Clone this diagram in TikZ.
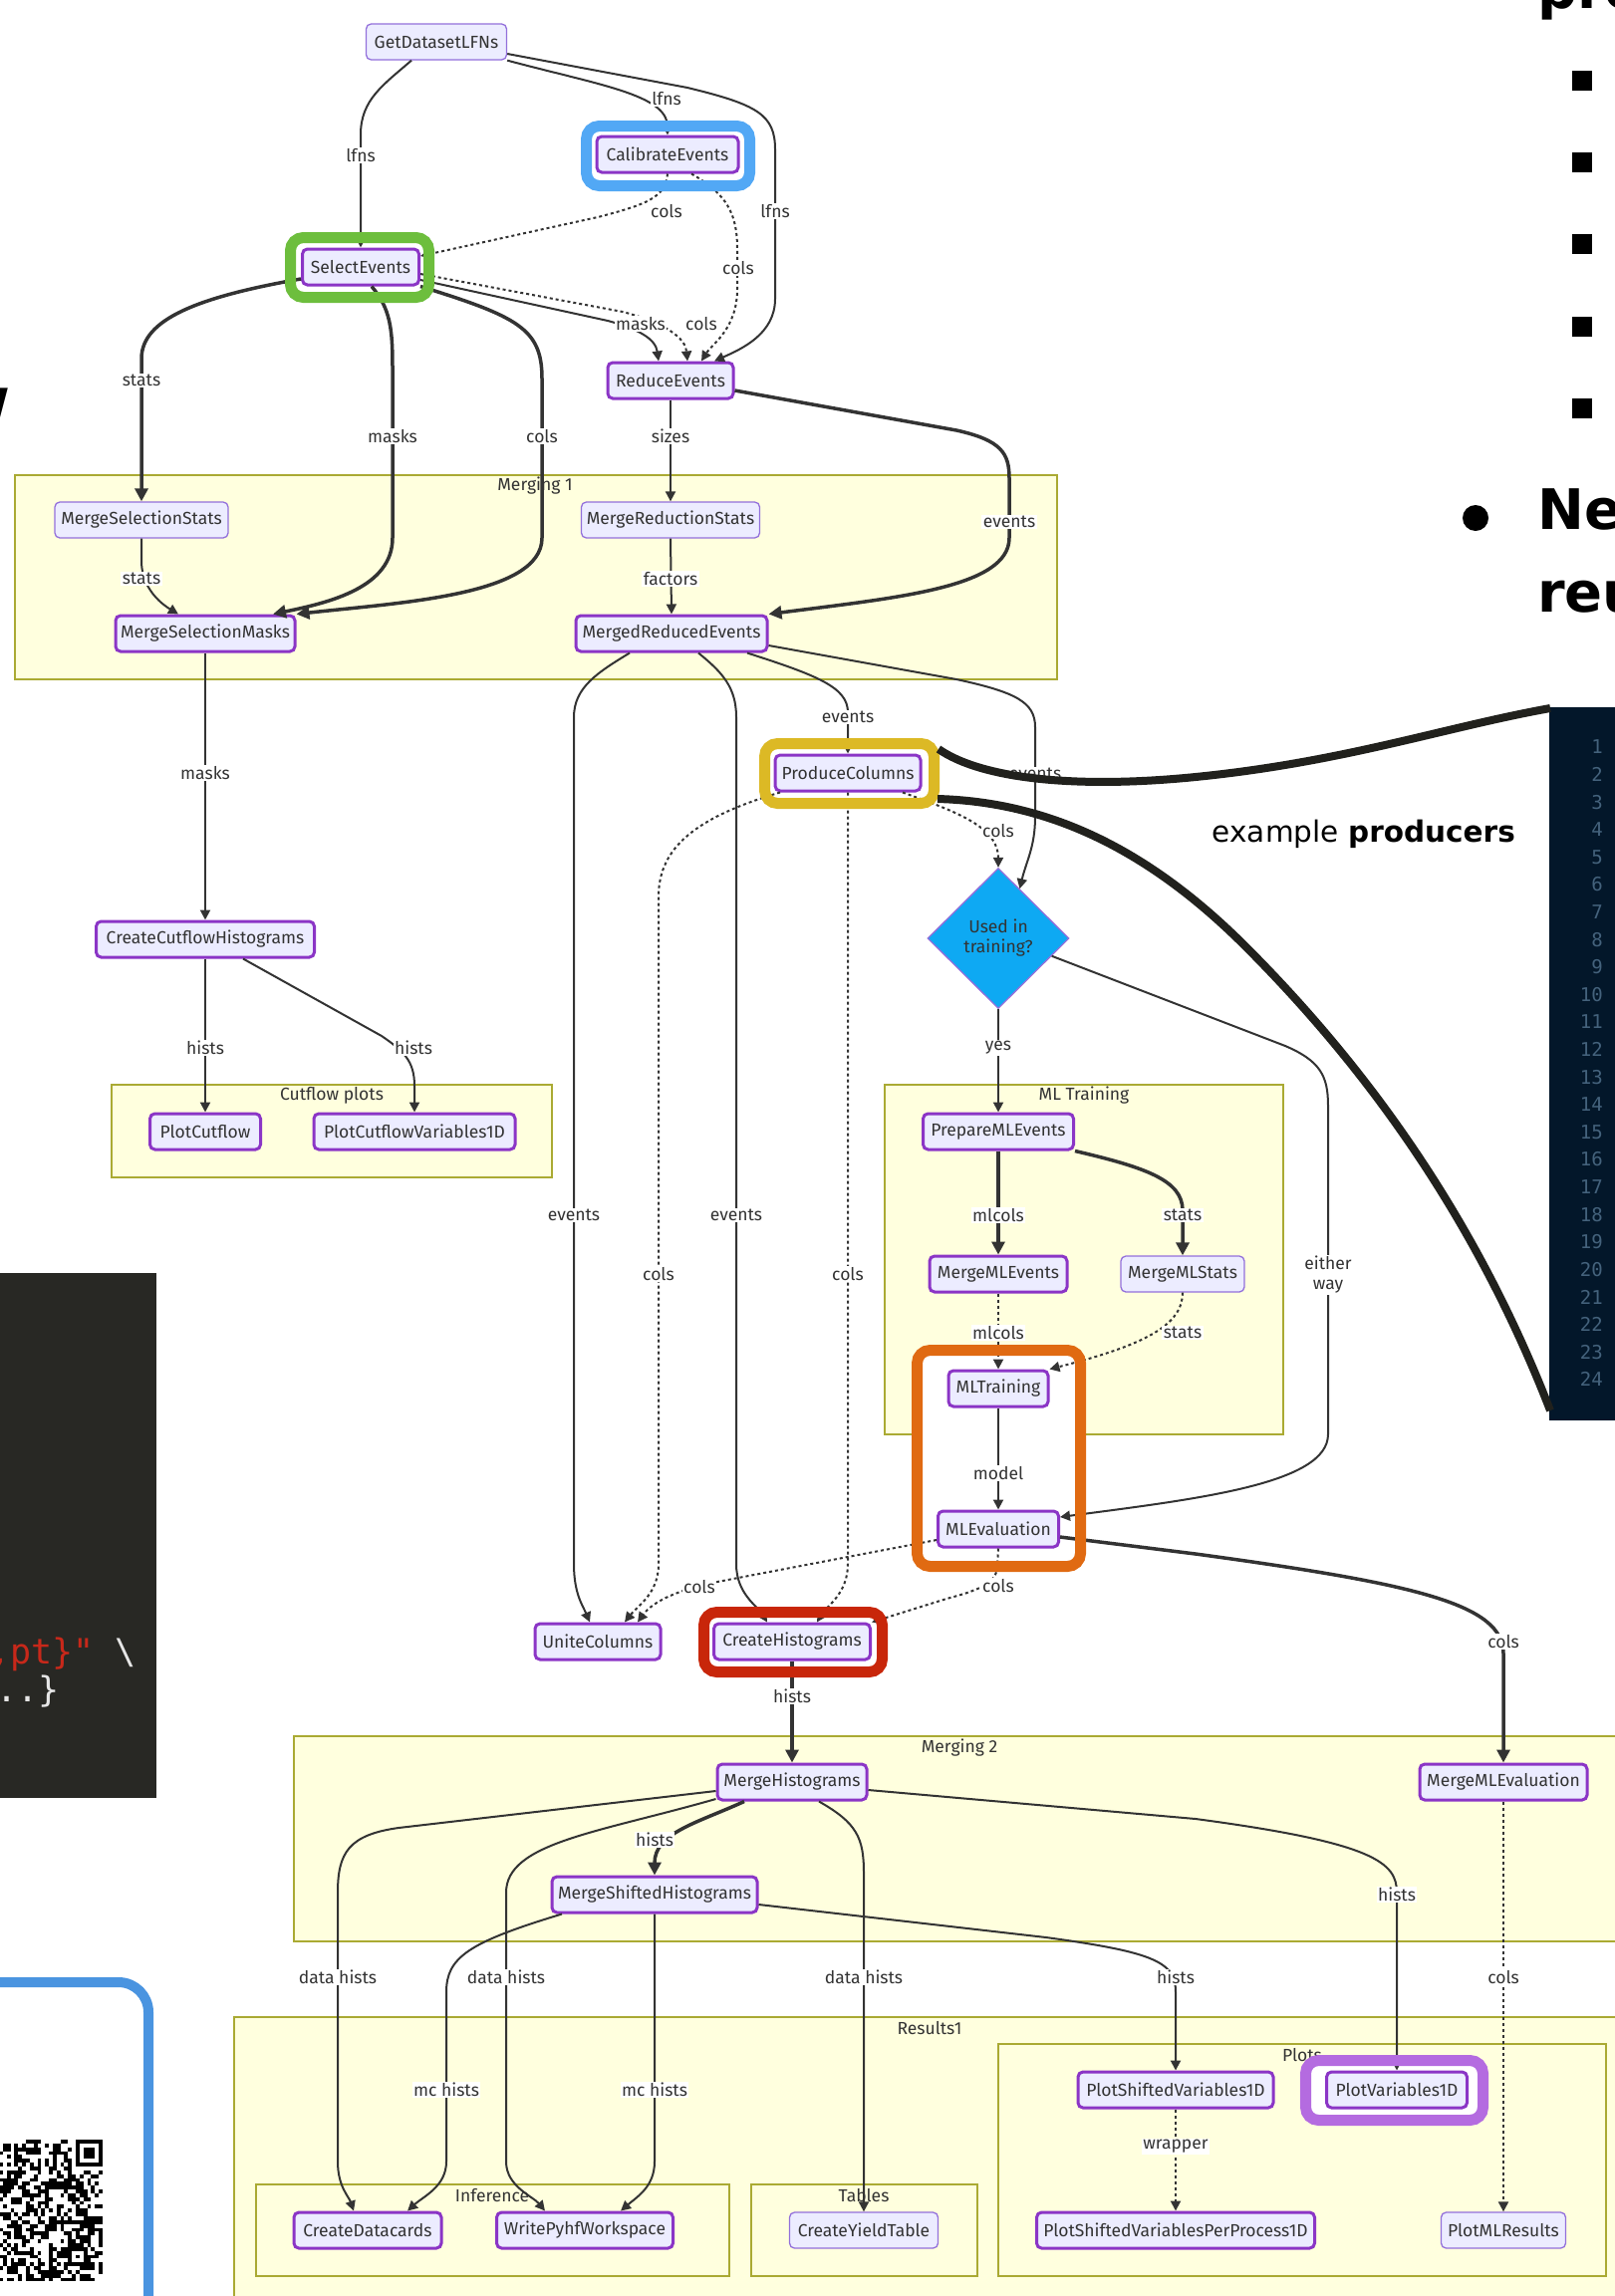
\documentclass[tikz,border=0pt]{standalone}
\usepackage{fontspec}
\setmainfont{Fira Sans}
\newfontfamily\slidefont{DejaVu Sans}
\newfontfamily\codefont{DejaVu Sans Mono}
\usetikzlibrary{arrows.meta,shapes.geometric,calc}
\definecolor{nodefill}{HTML}{ECECFF}
\definecolor{nodeborder}{HTML}{8B35C6}
\definecolor{lightborder}{HTML}{9370DB}
\definecolor{clfill}{HTML}{FFFFDE}
\definecolor{clborder}{HTML}{AAAA33}
\definecolor{edgecol}{HTML}{333333}
\definecolor{hlblue}{HTML}{52A8F5}
\definecolor{hlgreen}{HTML}{6DBE3D}
\definecolor{hlyellow}{HTML}{DCB925}
\definecolor{hlorange}{HTML}{E06A12}
\definecolor{hlred}{HTML}{C8260A}
\definecolor{hlpurple}{HTML}{B46BE0}
\definecolor{diafill}{HTML}{0EA9F3}
\definecolor{annot}{HTML}{21211D}
\definecolor{panelbg}{HTML}{03172A}
\definecolor{linenum}{HTML}{44627C}
\definecolor{codebg}{HTML}{282824}
\definecolor{codered}{HTML}{C8281A}
\definecolor{codegray}{HTML}{E6E6E6}
\definecolor{qrblue}{HTML}{4A94E0}
\newcommand{\dfont}{\fontsize{17.5}{20}\selectfont}
\begin{document}
\begin{tikzpicture}[x=1pt,y=-1pt,
  task/.style={draw=nodeborder, line width=3pt, fill=nodefill, rounded corners=5pt, minimum height=36pt, inner xsep=2pt, inner ysep=0pt, text=edgecol, font=\dfont},
  ltask/.style={task, draw=lightborder, line width=1.3pt},
  elabel/.style={fill=white, inner xsep=1.5pt, inner ysep=1pt, text=edgecol, font=\dfont, align=center},
  cluster/.style={draw=clborder, line width=1.2pt, fill=clfill},
  ctitle/.style={text=edgecol, font=\dfont, inner sep=0pt},
  edge/.style={draw=edgecol, line width=2pt, -{Triangle[length=10pt,width=10pt]}},
  tedge/.style={draw=edgecol, line width=3.5pt, -{Triangle[length=13pt,width=13pt]}},
  dedge/.style={edge, dash pattern=on 3pt off 3pt},
  hlring/.style={line width=11pt, rounded corners=13pt},
  slidebig/.style={anchor=base west, inner sep=0pt, font=\slidefont\bfseries\fontsize{56}{60}\selectfont},
]
\useasboundingbox (0,0) rectangle (1621,2305);
\clip (0,0) rectangle (1621,2305);
\fill[white] (0,0) rectangle (1621,2305);

% ---------------- clusters ----------------
\draw[cluster] (15,477) rectangle (1061,682);
\node[ctitle] (tm1) at (537,488) {Merging 1};
\draw[cluster] (112,1089) rectangle (554,1182);
\node[ctitle] (tcf) at (333,1100) {Cutflow plots};
\draw[cluster] (888,1089) rectangle (1288,1440);
\node[ctitle] (tml) at (1088,1100) {ML Training};
\draw[cluster] (295,1743) rectangle (1660,1949);
\node[ctitle] (tm2) at (963,1755) {Merging 2};
\draw[cluster] (235,2025) rectangle (1660,2360);
\node[ctitle] (tr1) at (933,2036) {Results1};
\draw[cluster] (257,2193) rectangle (732,2285);
\node[ctitle] (tinf) at (494,2204) {Inference};
\draw[cluster] (754,2193) rectangle (981,2285);
\node[ctitle] (ttab) at (867,2204) {Tables};
\draw[cluster] (1002,2052) rectangle (1612,2285);
\node[ctitle] (tplo) at (1307,2063) {Plots};

% ---------------- highlight interiors ----------------
\fill[white, rounded corners=13pt] (588.5,126.5) rectangle (752.5,186.5);
\fill[white, rounded corners=13pt] (291.5,238.5) rectangle (430.5,298.5);
\fill[white, rounded corners=13pt] (767.5,746.5) rectangle (937.5,806.5);
\fill[white, rounded corners=13pt] (920.5,1355.5) rectangle (1084.5,1572.5);
\fill[white, rounded corners=13pt] (706.5,1618.5) rectangle (885.5,1678.5);
\fill[white, rounded corners=13pt] (1310.5,2068.5) rectangle (1488.5,2128.5);

% ---------------- nodes ----------------
\node[ltask, minimum width=141pt] (gdl) at (438,42) {GetDatasetLFNs};
\node[task, minimum width=142pt] (cal) at (670,155) {CalibrateEvents};
\node[task, minimum width=117pt] (sel) at (362,268) {SelectEvents};
\node[task, minimum width=126pt] (red) at (673,382) {ReduceEvents};
\node[ltask, minimum width=174pt] (mss) at (142,522) {MergeSelectionStats};
\node[task, minimum width=180pt] (msm) at (206,636) {MergeSelectionMasks};
\node[ltask, minimum width=179pt] (mrs) at (673,522) {MergeReductionStats};
\node[task, minimum width=192pt] (mre) at (674,636) {MergedReducedEvents};
\node[task, minimum width=146pt] (pc) at (851,776) {ProduceColumns};
\node[diamond, draw=lightborder, line width=1.3pt, fill=diafill, minimum width=142pt, minimum height=141pt, inner sep=0pt, aspect=1, align=center, font=\dfont, text=edgecol] (dia) at (1002,942) {Used in\\training?};
\node[task, minimum width=219pt] (cch) at (206,943) {CreateCutflowHistograms};
\node[task, minimum width=111pt] (pcf) at (206,1136) {PlotCutflow};
\node[task, minimum width=202pt] (pcv) at (416,1136) {PlotCutflowVariables1D};
\node[task, minimum width=151pt] (pmle) at (1002,1136) {PrepareMLEvents};
\node[task, minimum width=138pt] (mmle) at (1002,1279) {MergeMLEvents};
\node[ltask, minimum width=124pt] (mmls) at (1187,1279) {MergeMLStats};
\node[task, minimum width=100pt] (mlt) at (1002,1394) {MLTraining};
\node[task, minimum width=121pt] (mlev) at (1002,1535) {MLEvaluation};
\node[task, minimum width=126pt] (uc) at (600,1648) {UniteColumns};
\node[task, minimum width=157pt] (ch) at (795,1648) {CreateHistograms};
\node[task, minimum width=150pt] (mh) at (795,1789) {MergeHistograms};
\node[task, minimum width=168pt] (mmlev) at (1509,1789) {MergeMLEvaluation};
\node[task, minimum width=206pt] (msh) at (657,1902) {MergeShiftedHistograms};
\node[task, minimum width=148pt] (cd) at (369,2239) {CreateDatacards};
\node[task, minimum width=177pt] (wpw) at (587,2239) {WritePyhfWorkspace};
\node[ltask, minimum width=149pt] (cyt) at (867,2239) {CreateYieldTable};
\node[task, minimum width=196pt] (psv) at (1180,2098) {PlotShiftedVariables1D};
\node[task, minimum width=141pt] (pv) at (1402,2098) {PlotVariables1D};
\node[task, minimum width=279pt] (psvpp) at (1180,2239) {PlotShiftedVariablesPerProcess1D};
\node[ltask, minimum width=125pt] (pmlr) at (1509,2239) {PlotMLResults};

% ---------------- edges ----------------
\draw[edge] ([xshift=-25pt]gdl.south) .. controls (385,85) and (362,100) .. (362,135) -- (sel.north);
\draw[edge] (gdl.south east) .. controls (600,85) and (669,95) .. (cal.north);
\draw[edge] ([yshift=-12pt]gdl.east) -- (690,88) .. controls (760,105) and (778,115) .. (778,150) -- (778,300) .. controls (778,335) and (745,350) .. ([xshift=44pt]red.north);
\draw[dedge] (cal.south) .. controls (668,198) and (650,205) .. (600,218) -- ([yshift=11pt]sel.east);
\draw[dedge] ([xshift=24pt]cal.south) .. controls (730,195) and (740,215) .. (740,250) -- (740,290) .. controls (740,330) and (715,345) .. ([xshift=31pt]red.north);
\draw[edge] ([yshift=-13pt]sel.east) -- (610,322) .. controls (640,330) and (658,340) .. ([xshift=-12pt]red.north);
\draw[dedge] ([yshift=-7pt]sel.east) -- (625,313) .. controls (670,325) and (688,340) .. ([xshift=17pt]red.north);
\draw[tedge] ([yshift=-12pt]sel.west) .. controls (200,298) and (142,320) .. (142,360) -- (mss.north);
\draw[tedge] ([xshift=11pt]sel.south) .. controls (392,310) and (394,330) .. (394,370) -- (394,540) .. controls (394,590) and (330,605) .. ([xshift=68pt]msm.north);
\draw[tedge] (sel.south east) .. controls (520,318) and (544,330) .. (544,380) -- (544,540) .. controls (544,598) and (400,605) .. (msm.north east);
\draw[edge] (red.south) -- (mrs.north);
\draw[tedge] ([yshift=-10pt]red.east) -- (960,432) .. controls (1005,442) and (1013,455) .. (1013,480) -- (1013,540) .. controls (1013,590) and (900,600) .. (mre.north east);
\draw[edge] (mss.south) -- (142,565) .. controls (143,590) and (160,605) .. ([xshift=-27pt]msm.north);
\draw[edge] (mrs.south) -- (mre.north);
\draw[edge] (msm.south) -- (cch.north);
\draw[edge] (cch.south) -- (pcf.north);
\draw[edge] ([xshift=38pt]cch.south) -- (383,1040) .. controls (405,1055) and (416,1065) .. (416,1090) -- (pcv.north);
\draw[edge] ([xshift=-42pt]mre.south) .. controls (600,675) and (576,690) .. (576,720) -- (576,1570) .. controls (576,1600) and (585,1612) .. ([xshift=-8pt]uc.north);
\draw[edge] ([xshift=27pt]mre.south) .. controls (725,675) and (739,690) .. (739,720) -- (739,1570) .. controls (739,1600) and (760,1612) .. ([xshift=-25pt]ch.north);
\draw[edge] ([xshift=76pt]mre.south) .. controls (820,678) and (851,690) .. (851,715) -- (pc.north);
\draw[edge] ([yshift=-12pt]mre.east) -- (960,682) .. controls (1020,695) and (1039,705) .. (1039,730) -- (1039,820) .. controls (1039,850) and (1030,865) .. ($(dia.north)!0.3!(dia.east)$);
\draw[dedge] ([xshift=55pt]pc.south) .. controls (960,815) and (1002,830) .. (dia.north);
\draw[dedge] ([xshift=-68pt]pc.south) .. controls (700,820) and (661,850) .. (661,900) -- (661,1570) .. controls (661,1600) and (640,1612) .. ([xshift=27pt]uc.north);
\draw[dedge] (pc.south) -- (851,1570) .. controls (851,1600) and (830,1612) .. ([xshift=25pt]ch.north);
\draw[edge] (dia.south) -- (pmle.north);
\draw[edge] ($(dia.east)!0.25!(dia.south)$) -- (1290,1050) .. controls (1325,1065) and (1333,1080) .. (1333,1110) -- (1333,1440) .. controls (1333,1490) and (1200,1505) .. ([yshift=12pt]mlev.east);
\draw[tedge] (pmle.south) -- (mmle.north);
\draw[tedge] (pmle.south east) .. controls (1150,1172) and (1187,1185) .. (1187,1215) -- (mmls.north);
\draw[dedge] (mmle.south) -- (mlt.north);
\draw[dedge] (mmls.south) .. controls (1187,1330) and (1150,1350) .. (mlt.north east);
\draw[edge] (mlt.south) -- (mlev.north);
\draw[dedge] ([yshift=-11pt]mlev.west) -- (720,1588) .. controls (680,1596) and (655,1608) .. ([xshift=40pt]uc.north);
\draw[dedge] (mlev.south) -- (1001,1572) .. controls (1001,1590) and (980,1597) .. (950,1605) -- (ch.north east);
\draw[tedge] ([yshift=-8pt]mlev.east) -- (1200,1560) .. controls (1420,1590) and (1509,1610) .. (1509,1660) -- (mmlev.north);
\draw[tedge] (ch.south) -- (mh.north);
\draw[tedge] ([xshift=-48pt]mh.south) .. controls (700,1830) and (657,1840) .. (msh.north);
\draw[edge] ([yshift=-9pt]mh.west) -- (400,1835) .. controls (350,1842) and (339,1860) .. (339,1900) -- (339,2170) .. controls (339,2195) and (350,2205) .. ([xshift=-14pt]cd.north);
\draw[edge] ([yshift=-17pt]mh.west) .. controls (600,1840) and (508,1850) .. (508,1900) -- (508,2170) .. controls (508,2195) and (535,2205) .. ([xshift=-40pt]wpw.north);
\draw[edge] ([xshift=27pt]mh.south) .. controls (860,1830) and (867,1845) .. (867,1880) -- (cyt.north);
\draw[edge] ([yshift=-8pt]mh.east) -- (1200,1826) .. controls (1380,1850) and (1402,1870) .. (1402,1900) -- (pv.north);
\draw[edge] ([xshift=-93pt]msh.south) .. controls (470,1950) and (448,1965) .. (448,2000) -- (448,2170) .. controls (448,2195) and (425,2205) .. ([xshift=40pt]cd.north);
\draw[edge] (msh.south) -- (657,2170) .. controls (657,2195) and (640,2205) .. ([xshift=36pt]wpw.north);
\draw[edge] ([yshift=-10pt]msh.east) -- (1050,1945) .. controls (1160,1960) and (1180,1970) .. (1180,2000) -- (psv.north);
\draw[dedge] (mmlev.south) -- (pmlr.north);
\draw[dedge] (psv.south) -- (psvpp.north);

% ---------------- edge labels ----------------
\node[elabel] (l1) at (362,156) {lfns};
\node[elabel] (l2) at (669,99) {lfns};
\node[elabel] (l3) at (778,212) {lfns};
\node[elabel] (l4) at (669,212) {cols};
\node[elabel] (l5) at (741,269) {cols};
\node[elabel] (l6) at (643,325) {masks};
\node[elabel] (l7) at (704,325) {cols};
\node[elabel] (l8) at (142,382) {stats};
\node[elabel] (l9) at (394,438) {masks};
\node[elabel] (l10) at (544,438) {cols};
\node[elabel] (l11) at (673,438) {sizes};
\node[elabel] (l12) at (1013,524) {events};
\node[elabel] (l13) at (142,581) {stats};
\node[elabel] (l14) at (673,581) {factors};
\node[elabel] (l15) at (206,776) {masks};
\node[elabel] (l16) at (206,1052) {hists};
\node[elabel] (l17) at (415,1052) {hists};
\node[elabel] (l18) at (576,1220) {events};
\node[elabel] (l19) at (739,1220) {events};
\node[elabel] (l20) at (851,720) {events};
\node[elabel] (l21) at (1039,777) {events};
\node[elabel] (l22) at (1002,834) {cols};
\node[elabel] (l23) at (661,1279) {cols};
\node[elabel] (l24) at (851,1279) {cols};
\node[elabel] (l25) at (1002,1052) {yes};
\node[elabel] (l26) at (1333,1280) {either\\way};
\node[elabel] (l27) at (1002,1220) {mlcols};
\node[elabel] (l28) at (1187,1220) {stats};
\node[elabel] (l29) at (1002,1338) {mlcols};
\node[elabel] (l30) at (1187,1338) {stats};
\node[elabel] (l31) at (1002,1479) {model};
\node[elabel] (l32) at (702,1593) {cols};
\node[elabel] (l33) at (1002,1592) {cols};
\node[elabel] (l34) at (1509,1648) {cols};
\node[elabel] (l35) at (795,1703) {hists};
\node[elabel] (l36) at (657,1847) {hists};
\node[elabel] (l37) at (339,1985) {data hists};
\node[elabel] (l38) at (508,1985) {data hists};
\node[elabel] (l39) at (867,1985) {data hists};
\node[elabel] (l40) at (1402,1902) {hists};
\node[elabel] (l41) at (448,2098) {mc hists};
\node[elabel] (l42) at (657,2098) {mc hists};
\node[elabel] (l43) at (1180,1985) {hists};
\node[elabel] (l44) at (1509,1985) {cols};
\node[elabel] (l45) at (1180,2155) {wrapper};

% ---------------- highlight rings ----------------
\draw[hlring, draw=hlblue] (588.5,126.5) rectangle (752.5,186.5);
\draw[hlring, draw=hlgreen] (291.5,238.5) rectangle (430.5,298.5);
\draw[hlring, draw=hlyellow] (767.5,746.5) rectangle (937.5,806.5);
\draw[hlring, draw=hlorange] (920.5,1355.5) rectangle (1084.5,1572.5);
\draw[hlring, draw=hlred] (706.5,1618.5) rectangle (885.5,1678.5);
\draw[hlring, draw=hlpurple] (1310.5,2068.5) rectangle (1488.5,2128.5);

% ---------------- slide: right side ----------------
\fill[panelbg] (1555,710) rectangle (1640,1426);
\foreach \n in {1,...,24}{
  \node[anchor=east, inner sep=0pt, text=linenum, font=\codefont\fontsize{19}{20}\selectfont] (ln\n) at (1609,{750+(\n-1)*27.6}) {\n};
}
\coordinate (pcr1) at (942,752);
\coordinate (pcr2) at (941,802);
\coordinate (pan1) at (1556,711);
\coordinate (pan2) at (1556,1416);
\draw[annot, line width=8pt] (pcr1) .. controls (985,782) and (1080,792) .. (1200,780) .. controls (1350,765) and (1450,730) .. (pan1);
\draw[annot, line width=8pt] (pcr2) .. controls (1050,805) and (1150,850) .. (1250,950) .. controls (1370,1070) and (1480,1220) .. (pan2);

\node[anchor=base east, inner sep=0pt, font=\slidefont\fontsize{29.5}{32}\selectfont] (expr) at (1521,845) {example \textbf{producers}};
\node[slidebig] (tpro) at (1543,8) {pro};
\foreach \yy in {81,163,245,328,410}{
  \fill[black] (1578,{\yy-10}) rectangle (1598,{\yy+10});
}
\fill[black] (1481,520) circle (13pt);
\node[slidebig] (tne) at (1543,531) {Ne};
\node[slidebig] (treu) at (1543,614) {reu};
\node[anchor=base east, inner sep=0pt, font=\slidefont\bfseries\fontsize{56}{60}\selectfont] (tw) at (10,420) {w};

% ---------------- slide: left code box ----------------
\fill[codebg] (-10,1278) rectangle (157,1805);
\node[anchor=base west, inner sep=0pt, font=\codefont\fontsize{35}{38}\selectfont] (code1) at (-11,1670) {\textcolor{codered}{,pt\}"} \textcolor{codegray}{\textbackslash}};
\node[anchor=base west, inner sep=0pt, font=\codefont\fontsize{35}{38}\selectfont] (code2) at (-4,1708) {\textcolor{codegray}{..\}}};

% ---------------- slide: QR box ----------------
\draw[qrblue, line width=10pt, rounded corners=30pt] (-60,1990) rectangle (149,2420);
\pgfmathsetseed{4242}
\foreach \i in {10,...,36}{
  \foreach \j in {0,...,36}{
    \pgfmathrandominteger{\qr}{0}{1}
    \ifnum\qr=1 \fill[black] ({-39.5+\i*3.85},{2148+\j*3.85}) rectangle ++(3.85,3.85); \fi
  }
}
% timing row
\foreach \i in {10,...,28}{
  \pgfmathparse{int(mod(\i,2))}
  \ifnum\pgfmathresult=0 \fill[black] ({-39.5+\i*3.85},{2148+6*3.85}) rectangle ++(3.85,3.85);
  \else \fill[white] ({-39.5+\i*3.85},{2148+6*3.85}) rectangle ++(3.85,3.85); \fi
}
% finder top-right
\fill[white] (72.15,2148) rectangle (102.95,2178.8);
\fill[black] (76,2148) rectangle (102.95,2174.95);
\fill[white] (79.85,2151.85) rectangle (99.1,2171.1);
\fill[black] (83.7,2155.7) rectangle (95.25,2167.25);
% alignment pattern
\fill[black] (68.3,2255.8) rectangle (87.55,2275.05);
\fill[white] (72.15,2259.65) rectangle (83.7,2271.2);
\fill[black] (76,2263.5) rectangle (79.85,2267.35);
\end{tikzpicture}
\end{document}
